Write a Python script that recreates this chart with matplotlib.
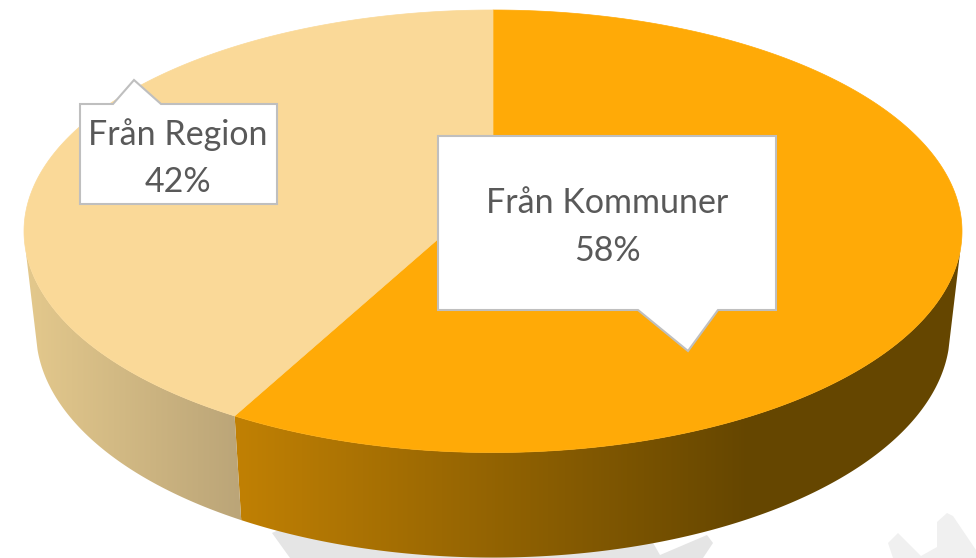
import numpy as np
import matplotlib
matplotlib.use("Agg")
import matplotlib.pyplot as plt
from matplotlib.patches import Polygon

categories = ["Från Kommuner", "Från Region"]
values = [57.8, 42.2]
colors = ["#FFAA07", "#FAD998"]
# side wall gradient: colour at left x, colour at right x
side_colors = [("#C08004", 240, "#654600", 750), ("#E3C88C", 30, "#BBA578", 240)]
# the wall is only visible between these angles (degrees clockwise from top)
WALL_START = 105
WALL_END = 255

# perspective pie drawn in image pixels
TOP = dict(cx=493, a=469, ytop=10, ybot=452)
BOTTOM = dict(cx=493, a=457, ytop=105, ybot=557)
APEX_RATIO = 0.41
C = 0.181


def project(u, v, e):
    y0 = e["ytop"] + APEX_RATIO * (e["ybot"] - e["ytop"])
    A = e["ytop"] * (1 + C) - y0
    k = e["a"] * np.sqrt(1 - C ** 2)
    d = 1 + C * v
    return e["cx"] + k * u / d, (y0 + A * v) / d


def arc(start, end, e, n=300):
    ang = np.linspace(start, end, n)
    x, y = project(np.sin(ang), np.cos(ang), e)
    return np.column_stack([x, y])


def gradient(c1, x1, c2, x2):
    c1 = np.array(matplotlib.colors.to_rgb(c1))
    c2 = np.array(matplotlib.colors.to_rgb(c2))
    t = np.clip((np.arange(976) + 0.5 - x1) / (x2 - x1), 0, 1)[:, None]
    return (c1 + (c2 - c1) * t)[None, :, :]


fig = plt.figure(figsize=(9.76, 5.58), dpi=100)
ax = fig.add_axes([0, 0, 1, 1])

# faint watermark behind the pie
ax.add_patch(Polygon([(272, 533), (290, 558), (703, 558), (713, 543), (707, 535),
                      (660, 555), (640, 520), (300, 520)], fc="#E5E5E5", ec="none", zorder=1))
ax.add_patch(Polygon([(888, 543), (898, 533), (921, 556), (937, 547), (937, 522), (947, 513),
                      (953, 516), (976, 550), (976, 558), (893, 558)], fc="#F0F0F0", ec="none", zorder=1))

fractions = np.array(values) / sum(values)
edges = np.concatenate([[0], np.cumsum(fractions)]) * 2 * np.pi

# side walls first, gradient image clipped to each ribbon
for i in range(len(values)):
    c1, x1, c2, x2 = side_colors[i]
    start = max(edges[i], np.radians(WALL_START))
    end = min(edges[i + 1], np.radians(WALL_END))
    ribbon = np.vstack([arc(start, end, TOP, 500), arc(end, start, BOTTOM, 500)])
    patch = Polygon(ribbon, fc="none", ec="none", transform=ax.transData)
    ax.add_patch(patch)
    im = ax.imshow(gradient(c1, x1, c2, x2), extent=(0, 976, 558, 0), aspect="auto",
                   interpolation="nearest", zorder=2)
    im.set_clip_path(patch)

ax.set_xlim(0, 976)
ax.set_ylim(558, 0)
ax.axis("off")

# top faces
apex = project(0, 0, TOP)
for i in range(len(values)):
    pts = np.vstack([[apex], arc(edges[i], edges[i + 1], TOP, 500)])
    ax.add_patch(Polygon(pts, fc=colors[i], ec=colors[i], lw=0.5, zorder=3))

# callouts
boxes = [
    [(438, 136), (776, 136), (776, 310), (718, 310), (688, 351), (638, 310), (438, 310)],
    [(80, 104), (113, 104), (134, 80), (161, 104), (277, 104), (277, 204), (80, 204)],
]
label_pos = [(607, 227), (178, 158)]
for i in range(len(values)):
    ax.add_patch(Polygon(boxes[i], fc="white", ec="#BFBFBF", lw=1.5, zorder=4))
    ax.text(label_pos[i][0], label_pos[i][1], "%s\n%d%%" % (categories[i], round(values[i])),
            ha="center", va="center", color="#595959", fontsize=24.5, family="Lato",
            linespacing=1.6, zorder=5)

fig.savefig("out.png", dpi=100)
